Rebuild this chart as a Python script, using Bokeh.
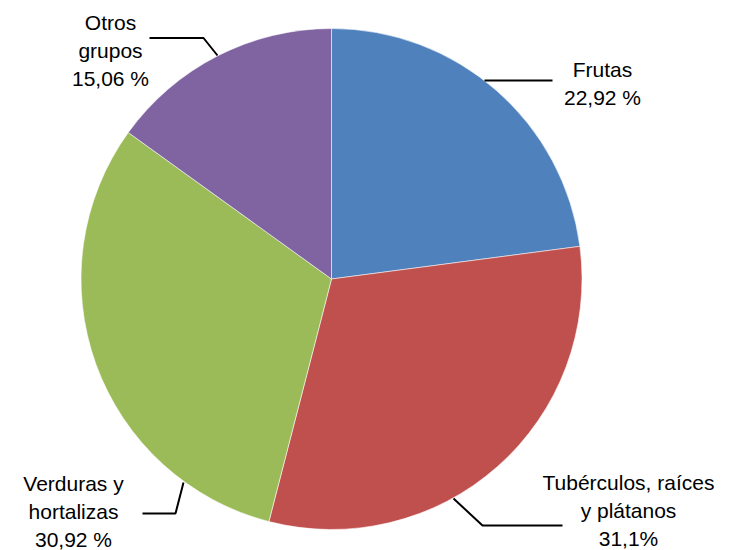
import math
from bokeh.plotting import figure
from bokeh.models import Range1d
from bokeh.core.properties import value
from bokeh.embed import file_html
from bokeh.resources import INLINE

# Data
categories = ["Frutas", "Tubérculos, raíces y plátanos", "Verduras y hortalizas", "Otros grupos"]
shares = [22.92, 31.1, 30.92, 15.06]
label_lines = [
    ["Frutas", "22,92 %"],
    ["Tubérculos, raíces", "y plátanos", "31,1%"],
    ["Verduras y", "hortalizas", "30,92 %"],
    ["Otros", "grupos", "15,06 %"],
]
colors = ["#4F81BD", "#C0504D", "#9BBB59", "#8064A2"]

# Layout (pixel coordinates, y measured from top)
W, H = 730, 550
CX, CY, R = 331, 278.5, 250.5
label_centers = [(602, 69), (628, 482), (73, 483), (110, 22)]
line_step = 28
leaders = [
    [(484, 80), (552, 80)],
    [(453, 498), (482, 525), (562, 525)],
    [(183, 482), (175, 513), (142, 513)],
    [(217, 55), (203, 37.5), (149, 37.5)],
]


def fy(y):
    return H - y


p = figure(width=W, height=H, output_backend="svg", toolbar_location=None,
           x_range=Range1d(0, W), y_range=Range1d(0, H),
           min_border=0)
p.axis.visible = False
p.grid.visible = False
p.outline_line_color = None
p.background_fill_color = "white"
p.border_fill_color = "white"

total = sum(shares)
cum = 0.0
starts, ends = [], []
for s in shares:
    a0 = math.pi / 2 - 2 * math.pi * cum / total
    cum += s
    a1 = math.pi / 2 - 2 * math.pi * cum / total
    starts.append(a0)
    ends.append(a1)

p.wedge(x=[CX] * 4, y=[fy(CY)] * 4, radius=R, start_angle=starts, end_angle=ends,
        direction="clock", fill_color=colors, line_color="white", line_alpha=0.55,
        line_width=1)

for pts in leaders:
    p.line([q[0] for q in pts], [fy(q[1]) for q in pts], line_color="black", line_width=2)

for (lx, ly), lines in zip(label_centers, label_lines):
    xs = [lx] * len(lines)
    ys = [fy(ly + i * line_step) for i in range(len(lines))]
    p.text(x=xs, y=ys, text=lines, text_font=value("Liberation Sans"),
           text_font_size="21px", text_align="center", text_baseline="middle",
           text_color="black")

open("out.html", "w").write(file_html(p, INLINE))
